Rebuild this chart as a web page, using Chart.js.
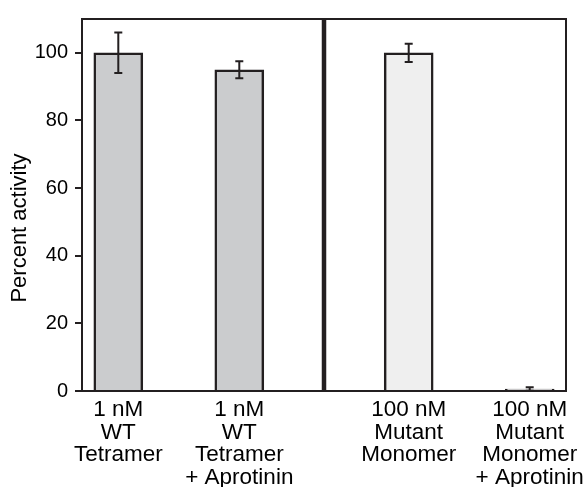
<!DOCTYPE html>
<html>
<head>
<meta charset="utf-8">
<script src="https://cdn.jsdelivr.net/npm/chart.js@4"></script>
<style>
  body { margin: 0; background: #fff; }
  #wrap { width: 586px; height: 487px; }
</style>
</head>
<body>
<div id="wrap"><canvas id="activityChart"></canvas></div>
<script>
// bar positions on the x axis (two groups split at groupSplit)
var positions = [0.3, 1.3, 2.7, 3.7];
var groupSplit = 2;
var categories = [
    ["1 nM", "WT", "Tetramer"],
    ["1 nM", "WT", "Tetramer", "+ Aprotinin"],
    ["100 nM", "Mutant", "Monomer"],
    ["100 nM", "Mutant", "Monomer", "+ Aprotinin"]
];
var activity = [100, 95, 100, 0.6];
var activityErr = [6, 2.5, 2.7, 0.5];
var yTicks = [0, 20, 40, 60, 80, 100];
var yTitle = 'Percent activity';

var ink = '#231f20';
var barColors = ['#cbccce', '#cbccce', '#efefef', '#efefef'];
var fontFamily = 'Liberation Sans, Arial, sans-serif';

var frameAndErrors = {
    id: 'frameAndErrors',
    afterDatasetsDraw: function (chart) {
        var ctx = chart.ctx;
        var area = chart.chartArea;
        var xs = chart.scales.x, ys = chart.scales.y;
        var meta = chart.getDatasetMeta(0);

        ctx.save();
        ctx.strokeStyle = ink;
        ctx.lineCap = 'butt';

        // error bars
        ctx.lineWidth = 2;
        meta.data.forEach(function (bar, i) {
            var top = ys.getPixelForValue(activity[i] + activityErr[i]);
            var bot = ys.getPixelForValue(activity[i] - activityErr[i]);
            ctx.beginPath();
            ctx.moveTo(bar.x, top); ctx.lineTo(bar.x, bot);
            ctx.moveTo(bar.x - 4, top); ctx.lineTo(bar.x + 4, top);
            ctx.moveTo(bar.x - 4, bot); ctx.lineTo(bar.x + 4, bot);
            ctx.stroke();
        });

        // top and right frame
        ctx.lineWidth = 2;
        ctx.beginPath();
        ctx.moveTo(area.left, area.top);
        ctx.lineTo(area.right, area.top);
        ctx.lineTo(area.right, area.bottom);
        ctx.stroke();

        // thick divider between the two groups
        var dx = xs.getPixelForValue(groupSplit);
        ctx.lineWidth = 4.5;
        ctx.beginPath();
        ctx.moveTo(dx, area.top);
        ctx.lineTo(dx, area.bottom);
        ctx.stroke();

        // y axis title, sits a bit below the middle of the axis
        ctx.fillStyle = '#000';
        ctx.font = '22px ' + fontFamily;
        ctx.textAlign = 'center';
        ctx.textBaseline = 'middle';
        ctx.translate(20, (area.top + area.bottom) / 2 + 23);
        ctx.rotate(-Math.PI / 2);
        ctx.fillText(yTitle, 0, 0);
        ctx.restore();
    }
};

new Chart(document.getElementById('activityChart'), {
    type: 'bar',
    data: {
        datasets: [{
            data: positions.map(function (p, i) { return { x: p, y: activity[i] }; }),
            backgroundColor: barColors,
            borderColor: ink,
            borderWidth: 2.5,
            barThickness: 49
        }]
    },
    options: {
        responsive: true,
        maintainAspectRatio: false,
        animation: false,
        layout: { padding: { top: 16, right: 20, left: 0, bottom: 0 } },
        plugins: {
            legend: { display: false },
            tooltip: { enabled: false }
        },
        scales: {
            x: {
                type: 'linear',
                min: 0,
                max: 4,
                offset: false,
                afterFit: function (scale) {
                    scale.height = 96;
                    // let the long bottom labels run past the edge like the original
                    scale.paddingLeft = 0;
                    scale.paddingRight = 0;
                },
                afterBuildTicks: function (scale) {
                    scale.ticks = positions.map(function (p) { return { value: p }; });
                },
                grid: { display: false, drawTicks: false },
                border: { display: true, color: ink, width: 2 },
                ticks: {
                    autoSkip: false,
                    maxRotation: 0,
                    padding: 8,
                    color: '#000',
                    font: { family: fontFamily, size: 22.5, lineHeight: 1.0 },
                    callback: function (value, index) { return categories[index]; }
                }
            },
            y: {
                min: 0,
                max: 110,
                afterFit: function (scale) { scale.width = 82; },
                afterBuildTicks: function (scale) {
                    scale.ticks = yTicks.map(function (v) { return { value: v }; });
                },
                grid: {
                    drawOnChartArea: false,
                    drawTicks: true,
                    tickLength: 7,
                    color: ink,
                    lineWidth: 2
                },
                border: { display: true, color: ink, width: 2 },
                ticks: {
                    padding: 7,
                    color: '#000',
                    font: { family: fontFamily, size: 20 }
                }
            }
        }
    },
    plugins: [frameAndErrors]
});
</script>
</body>
</html>
